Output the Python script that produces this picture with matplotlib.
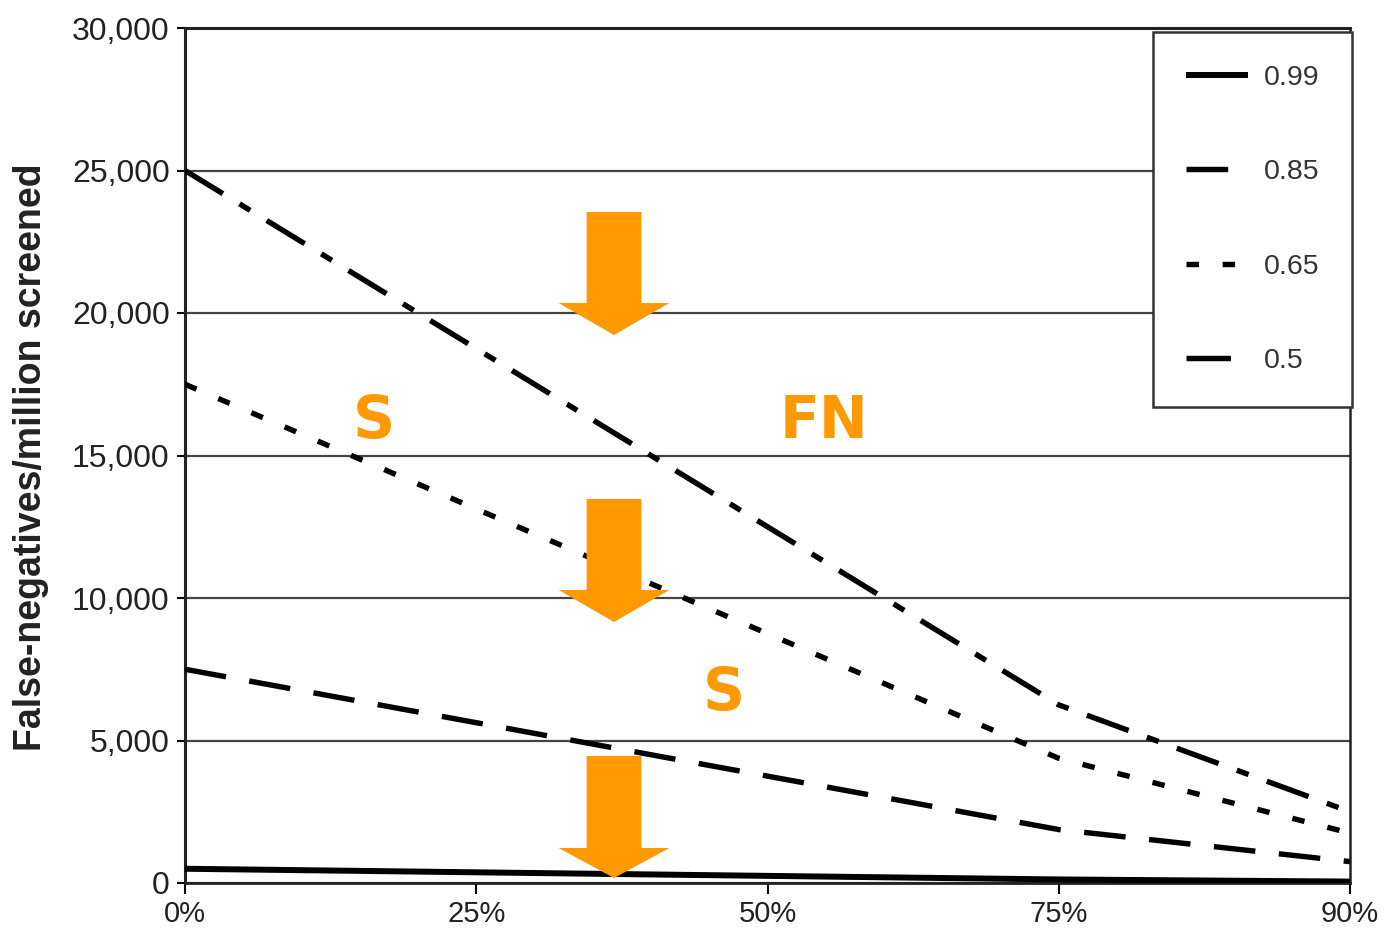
import numpy as np
import matplotlib
matplotlib.use('Agg')
import matplotlib.pyplot as plt
from matplotlib.patches import Polygon, Ellipse
from matplotlib.ticker import FuncFormatter

plt.rcParams['font.family'] = ['Liberation Sans', 'DejaVu Sans']
plt.rcParams['lines.scale_dashes'] = False

# x categories and false negatives per million screened, one list per sensitivity
pct_labels = ['0%', '25%', '50%', '75%', '90%']
sens_labels = ['0.99', '0.85', '0.65', '0.5']
fn_099 = [500, 375, 250, 125, 50]
fn_085 = [7500, 5625, 3750, 1875, 750]
fn_065 = [17500, 13125, 8750, 4375, 1750]
fn_050 = [25000, 18750, 12500, 6250, 2500]

orange = '#ff9900'
ink = '#222222'

fig = plt.figure(figsize=(13.91, 9.31), dpi=100)
ax = fig.add_axes([185 / 1391, 48 / 931, 1165 / 1391, 855 / 931])

x = np.arange(len(pct_labels))
series = [fn_099, fn_085, fn_065, fn_050]
styles = ['-', (0, (30, 17)), (0, (9, 17)), (0, (32, 14, 9, 14))]
widths = [4.3, 3.9, 3.9, 3.9]
for ys, lab, ls, lw in zip(series, sens_labels, styles, widths):
    ax.plot(x, ys, color='black', linestyle=ls, linewidth=lw, label=lab,
            solid_capstyle='butt', dash_capstyle='butt', zorder=3)

ax.set_xlim(0, len(pct_labels) - 1)
ax.set_ylim(0, 30000)
ax.set_xticks(x)
ax.set_xticklabels(pct_labels)
ax.set_yticks(np.arange(0, 30001, 5000))
ax.yaxis.set_major_formatter(FuncFormatter(lambda v, p: f'{int(v):,}'))

ax.yaxis.grid(True, color='#444444', linewidth=1.6)
ax.set_axisbelow(True)
ax.tick_params(axis='y', length=6, width=1.5, pad=5, labelsize=23, labelcolor=ink)
ax.tick_params(axis='x', length=8, width=1.5, pad=4, labelsize=21, labelcolor=ink)
for side, w in [('left', 2.2), ('top', 2.2), ('right', 1.8), ('bottom', 2.0)]:
    ax.spines[side].set_linewidth(w)
    ax.spines[side].set_color('#222222')

fig.text(31 / 1391, 1 - 457 / 931, 'False-negatives/million screened',
         rotation=90, ha='center', va='center', fontsize=27,
         fontweight='bold', color=ink)

leg = ax.legend(loc='upper right', bbox_to_anchor=(1.002, 0.995), fontsize=20.5,
                handlelength=2.2, handletextpad=0.55, labelspacing=2.4,
                borderpad=1.15, borderaxespad=0, fancybox=False,
                edgecolor='#333333', framealpha=1)
leg.get_frame().set_linewidth(1.8)
for t in leg.get_texts():
    t.set_color('#333333')


def down_arrow(ax, xc, y_top, y_base, y_tip, shaft=0.094, head=0.19):
    pts = [(xc - shaft, y_top), (xc + shaft, y_top), (xc + shaft, y_base),
           (xc + head, y_base), (xc, y_tip), (xc - head, y_base),
           (xc - shaft, y_base)]
    ax.add_patch(Polygon(pts, closed=True, facecolor=orange, edgecolor='none',
                         zorder=5, clip_on=False))


down_arrow(ax, 1.473, 23544, 20350, 19228)
down_arrow(ax, 1.473, 13474, 10281, 9158)
down_arrow(ax, 1.473, 4456, 1228, 175)

ax.add_patch(Ellipse((1.28, 16950), 0.07, 700, facecolor='white',
                     edgecolor='none', zorder=4))

note_kw = dict(color=orange, fontsize=42, fontweight='bold', ha='center',
               va='baseline', family='DejaVu Sans', zorder=6)
ax.text(0.649, 15614, 'S', **note_kw)
ax.text(2.194, 15614, 'FN', **note_kw)
ax.text(1.851, 6070, 'S', **note_kw)

fig.savefig('out.png', dpi=100)
